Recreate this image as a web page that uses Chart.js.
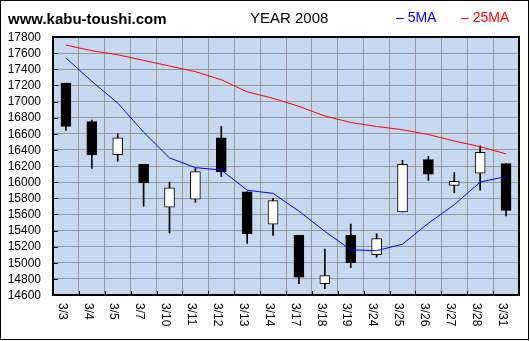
<!DOCTYPE html>
<html>
<head>
<meta charset="utf-8">
<script src="https://cdn.jsdelivr.net/npm/chart.js@4/dist/chart.umd.min.js"></script>
<style>
  body { margin: 0; background: #fff; }
  canvas { display: block; }
</style>
</head>
<body>
<canvas id="chart" width="530" height="341"></canvas>
<script>
const dates = ["3/3", "3/4", "3/5", "3/7", "3/10", "3/11", "3/12", "3/13", "3/14",
  "3/17", "3/18", "3/19", "3/24", "3/25", "3/26", "3/27", "3/28", "3/31"];
const openPrices  = [17230, 16750, 16340, 16220, 15690, 15790, 16550, 15880, 15480,
  15340, 14740, 15340, 15100, 15630, 16280, 15960, 16110, 16230];
const closePrices = [16690, 16340, 16550, 15990, 15930, 16130, 16130, 15360, 15770,
  14820, 14840, 15000, 15300, 16220, 16100, 16010, 16370, 15650];
const highPrices  = [17230, 16770, 16600, 16220, 16000, 16170, 16690, 15880, 15800,
  15340, 15170, 15480, 15360, 16270, 16320, 16120, 16450, 16230];
const lowPrices   = [16640, 16170, 16260, 15700, 15370, 15750, 16070, 15240, 15340,
  14740, 14680, 14940, 15070, 15630, 16020, 15870, 15900, 15580];
const ma5  = [17540, 17250, 16980, 16620, 16300, 16180, 16150, 15900, 15860,
  15640, 15390, 15160, 15150, 15230, 15490, 15720, 16000, 16070];
const ma25 = [17700, 17630, 17580, 17510, 17440, 17370, 17270, 17120, 17040,
  16940, 16820, 16740, 16690, 16650, 16590, 16510, 16440, 16350];
const yMin = 14600;
const yMax = 17800;
const yStep = 200;

const font = '"Liberation Sans", Arial, sans-serif';

var bodies = [];
var wicks = [];
var bodyColors = [];
for (var i = 0; i < dates.length; i++) {
  bodies.push([openPrices[i], closePrices[i]]);
  wicks.push([lowPrices[i], highPrices[i]]);
  bodyColors.push(closePrices[i] >= openPrices[i] ? "#ffffff" : "#000000");
}

// background, frame, axis labels and header text
const decor = {
  id: "decor",
  beforeDraw(chart) {
    const c = chart.ctx;
    const a = chart.chartArea;
    c.save();
    c.fillStyle = "#ffffff";
    c.fillRect(0, 0, chart.width, chart.height);
    c.fillStyle = "#c6d9f0";
    c.fillRect(a.left, a.top, a.right - a.left, a.bottom - a.top);
    c.restore();
  },
  afterDraw(chart) {
    const c = chart.ctx;
    const a = chart.chartArea;
    const xs = chart.scales.x;
    const ys = chart.scales.y;
    c.save();

    // plot border
    c.strokeStyle = "#000";
    c.lineWidth = 2;
    c.strokeRect(a.left, a.top, a.right - a.left, a.bottom - a.top);

    // inner tick marks
    c.lineWidth = 1;
    c.beginPath();
    ys.ticks.forEach(function (t) {
      var y = Math.round(ys.getPixelForValue(t.value)) + 0.5;
      c.moveTo(a.left, y);
      c.lineTo(a.left + 5, y);
    });
    for (var i = 1; i < dates.length; i++) {
      var x = Math.round((xs.getPixelForValue(i - 1) + xs.getPixelForValue(i)) / 2) + 0.5;
      c.moveTo(x, a.bottom);
      c.lineTo(x, a.bottom - 4);
    }
    c.stroke();

    // y labels
    c.fillStyle = "#000";
    c.font = "12px " + font;
    c.textAlign = "right";
    c.textBaseline = "middle";
    ys.ticks.forEach(function (t) {
      c.fillText(String(t.value), 41, ys.getPixelForValue(t.value) + 0.5);
    });

    // x labels, turned to read downward
    c.textAlign = "left";
    dates.forEach(function (d, i) {
      c.save();
      c.translate(xs.getPixelForValue(i) - 4, 303);
      c.rotate(Math.PI / 2);
      c.fillText(d, 0, 0);
      c.restore();
    });

    // header
    c.textBaseline = "alphabetic";
    c.font = "bold 15px " + font;
    c.fillText("www.kabu-toushi.com", 8, 24);
    c.font = "15px " + font;
    c.fillText("YEAR 2008", 250, 23);
    c.font = "14px " + font;
    c.fillStyle = "#0000ff";
    c.fillText("\u2013 5MA", 396, 22);
    c.fillStyle = "#ff0000";
    c.fillText("\u2013 25MA", 461, 22);

    // outer frame
    c.strokeStyle = "#000";
    c.lineWidth = 1;
    c.strokeRect(0.5, 0.5, 528, 339);
    c.restore();
  }
};

const ctx = document.getElementById("chart").getContext("2d");
const chart = new Chart(ctx, {
  type: "bar",
  data: {
    labels: dates,
    datasets: [
      {
        type: "line",
        label: "5MA",
        data: ma5,
        borderColor: "#0000ff",
        borderWidth: 1,
        pointRadius: 0,
        tension: 0,
        order: 0
      },
      {
        type: "line",
        label: "25MA",
        data: ma25,
        borderColor: "#ff0000",
        borderWidth: 1,
        pointRadius: 0,
        tension: 0,
        order: 0
      },
      {
        label: "body",
        data: bodies,
        backgroundColor: bodyColors,
        borderColor: "#000000",
        borderWidth: 1,
        borderSkipped: false,
        barThickness: 10,
        grouped: false,
        order: 1
      },
      {
        label: "wick",
        data: wicks,
        backgroundColor: "#000000",
        borderWidth: 0,
        barThickness: 1,
        grouped: false,
        order: 2
      }
    ]
  },
  options: {
    responsive: false,
    animation: false,
    devicePixelRatio: 1,
    layout: { padding: { left: 53, top: 37, right: 11, bottom: 46 } },
    plugins: {
      legend: { display: false },
      tooltip: { enabled: false }
    },
    scales: {
      x: {
        offset: true,
        grid: { color: "#999999", lineWidth: 1, offset: true, drawTicks: false },
        border: { display: false },
        ticks: { display: false }
      },
      y: {
        min: yMin,
        max: yMax,
        grid: { color: "#999999", lineWidth: 1, drawTicks: false },
        border: { display: false },
        ticks: { display: false, stepSize: yStep }
      }
    }
  },
  plugins: [decor]
});
</script>
</body>
</html>
